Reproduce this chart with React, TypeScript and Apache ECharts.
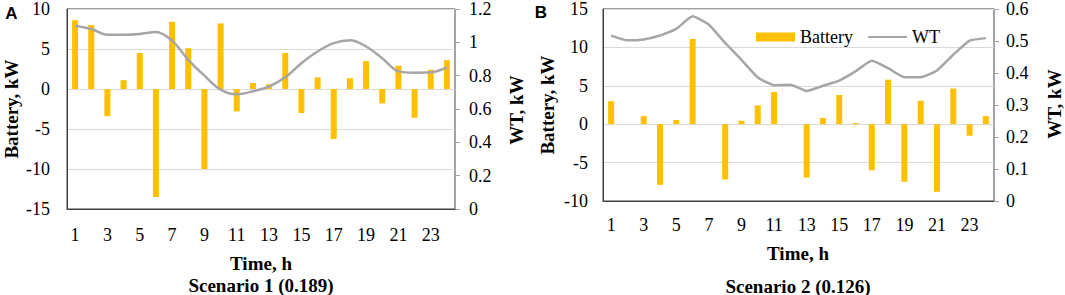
import React, { useEffect, useRef } from "react";
import * as echarts from "echarts";

const hours = Array.from({ length: 24 }, (_, i) => String(i + 1));
const batteryA = [8.6, 8.0, -3.4, 1.1, 4.5, -13.5, 8.4, 5.1, -10.0, 8.2, -2.8, 0.75, 0.6, 4.5, -3.0, 1.45, -6.25, 1.35, 3.5, -1.8, 2.9, -3.6, 2.4, 3.6];
const wtA = [1.1, 1.08, 1.045, 1.045, 1.05, 1.062, 1.01, 0.895, 0.8, 0.716, 0.688, 0.706, 0.735, 0.79, 0.875, 0.945, 0.995, 1.012, 0.975, 0.905, 0.826, 0.818, 0.82, 0.85];
const batteryB = [3.0, 0, 1.05, -7.9, 0.55, 11.1, 0, -7.2, 0.45, 2.45, 4.2, 0, -6.95, 0.8, 3.8, 0.15, -6.0, 5.8, -7.5, 3.05, -8.8, 4.65, -1.5, 1.05];
const wtB = [0.517, 0.502, 0.505, 0.517, 0.538, 0.577, 0.551, 0.494, 0.441, 0.386, 0.362, 0.363, 0.344, 0.36, 0.376, 0.405, 0.438, 0.415, 0.387, 0.387, 0.408, 0.457, 0.501, 0.509];

const SERIF = "Liberation Serif";
const DARK = "#404040";
const GREY = "#A6A6A6";
const GRID = "#D9D9D9";
const GOLD = "#FFC000";

export default function App() {
  const ref = useRef<HTMLDivElement>(null);
  useEffect(() => {
    if (!ref.current) return;
    const chart = echarts.init(ref.current, null, { renderer: "svg" });
    const xAxisBase = (gridIndex: number, margin: number) => ({
      type: "category",
      gridIndex,
      data: hours,
      boundaryGap: true,
      axisLine: { onZero: false, lineStyle: { color: DARK, width: 1 } },
      axisTick: { inside: true, length: 4, interval: 0, lineStyle: { color: DARK } },
      axisLabel: { interval: 1, margin, color: "#000", fontSize: 18, fontFamily: SERIF },
      splitLine: { show: false },
    });
    const leftY = (gridIndex: number, min: number, max: number, margin: number) => ({
      type: "value",
      gridIndex,
      min,
      max,
      interval: 5,
      position: "left",
      axisLine: { show: true, lineStyle: { color: DARK } },
      axisTick: { show: false },
      axisLabel: { margin, color: "#000", fontSize: 18, fontFamily: SERIF },
      splitLine: { show: true, lineStyle: { color: GRID, width: 1 } },
    });
    const rightY = (gridIndex: number, max: number, interval: number, margin: number) => ({
      type: "value",
      gridIndex,
      min: 0,
      max,
      interval,
      position: "right",
      axisLine: { show: true, lineStyle: { color: GREY } },
      axisTick: { show: true, inside: false, length: 5, lineStyle: { color: GREY } },
      axisLabel: { margin, color: "#000", fontSize: 18, fontFamily: SERIF },
      splitLine: { show: false },
    });
    const boldText = (text: string, x: number, y: number, rotation = 0) => ({
      type: "text",
      x,
      y,
      rotation,
      style: {
        text,
        fill: "#000",
        font: `bold 19px "Liberation Serif", serif`,
        align: "center",
        verticalAlign: "middle",
      },
    });
    chart.setOption({
      animation: false,
      textStyle: { fontFamily: SERIF },
      grid: [
        { left: 67, top: 9, width: 388, height: 200, show: true, borderColor: DARK, borderWidth: 1, backgroundColor: "transparent" },
        { left: 603, top: 9, width: 391, height: 192, show: true, borderColor: DARK, borderWidth: 1, backgroundColor: "transparent" },
      ],
      xAxis: [xAxisBase(0, 17), xAxisBase(1, 15)],
      yAxis: [leftY(0, -15, 10, 17), rightY(0, 1.2, 0.2, 14), leftY(1, -10, 15, 15), rightY(1, 0.6, 0.1, 12)],
      legend: {
        left: 751,
        top: 23,
        itemWidth: 39,
        itemHeight: 9,
        itemGap: 14,
        textStyle: { color: "#000", fontSize: 18, fontFamily: SERIF },
        data: [
          { name: "Battery", icon: "rect" },
          { name: "WT", itemStyle: { opacity: 0 } },
        ],
      },
      series: [
        { name: "Battery", type: "bar", xAxisIndex: 0, yAxisIndex: 0, data: batteryA, barWidth: 6, itemStyle: { color: GOLD } },
        { name: "WT", type: "line", xAxisIndex: 0, yAxisIndex: 1, data: wtA, smooth: 0.35, symbol: "none", lineStyle: { color: GREY, width: 2.5 }, itemStyle: { color: GREY } },
        { name: "Battery", type: "bar", xAxisIndex: 1, yAxisIndex: 2, data: batteryB, barWidth: 6, itemStyle: { color: GOLD } },
        { name: "WT", type: "line", xAxisIndex: 1, yAxisIndex: 3, data: wtB, smooth: 0.15, symbol: "none", lineStyle: { color: GREY, width: 2.5 }, itemStyle: { color: GREY } },
      ],
      graphic: [
        { type: "text", x: 11.5, y: 13.5, style: { text: "A", fill: "#000", font: `bold 17px "Liberation Sans", sans-serif`, align: "center", verticalAlign: "middle" } },
        { type: "text", x: 541, y: 12.5, style: { text: "B", fill: "#000", font: `bold 17px "Liberation Sans", sans-serif`, align: "center", verticalAlign: "middle" } },
        boldText("Battery, kW", 11, 109, Math.PI / 2),
        boldText("WT, kW", 516, 110, Math.PI / 2),
        boldText("Battery, kW", 547, 105, Math.PI / 2),
        boldText("WT, kW", 1054, 104, Math.PI / 2),
        boldText("Time, h", 261, 263),
        boldText("Scenario 1 (0.189)", 261, 285),
        boldText("Time, h", 798, 253),
        boldText("Scenario 2 (0.126)", 798, 286),
      ],
    });
    return () => chart.dispose();
  }, []);
  return (
    <div
      ref={ref}
      style={{ position: "absolute", left: 0, top: 0, width: 1065, height: 295, background: "#fff" }}
    />
  );
}
